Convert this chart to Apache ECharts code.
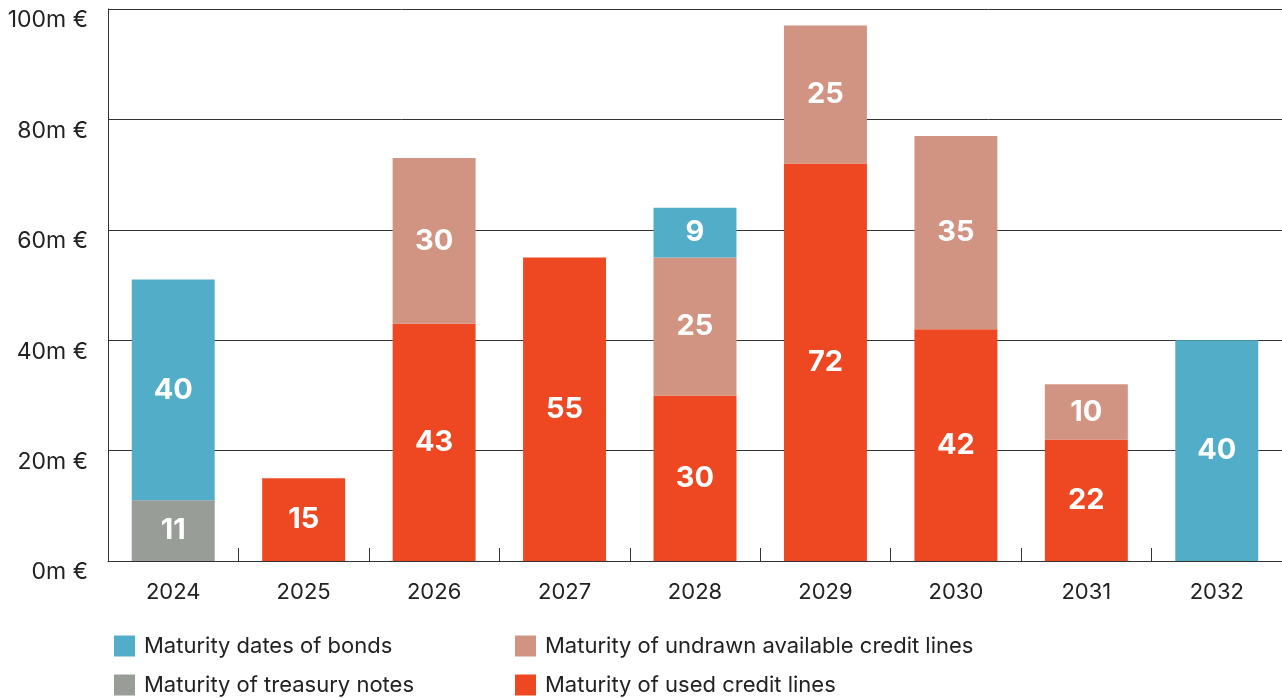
<!DOCTYPE html>
<html>
<head>
<meta charset="utf-8">
<script src="https://cdn.jsdelivr.net/npm/echarts@6/dist/echarts.min.js"></script>
<style>
  html, body { margin: 0; padding: 0; background: #fff; }
  #chart { width: 1282px; height: 698px; }
</style>
</head>
<body>
<div id="chart"></div>
<script>
// Maturity profile by year (m €)
const years = ['2024', '2025', '2026', '2027', '2028', '2029', '2030', '2031', '2032'];
const treasuryNotes = [11, null, null, null, null, null, null, null, null];
const usedCredit = [null, 15, 43, 55, 30, 72, 42, 22, null];
const undrawnCredit = [null, null, 30, null, 25, 25, 35, 10, null];
const bonds = [40, null, null, null, 9, null, null, null, 40];
const yTicks = [0, 20, 40, 60, 80, 100];

const FONT = 'Inter, "Noto Sans", sans-serif';
const COLORS = {
  bonds: '#52aec8',
  treasury: '#999d97',
  undrawn: '#d19482',
  used: '#ee4823'
};

const NAMES = {
  bonds: 'Maturity dates of bonds',
  treasury: 'Maturity of treasury notes',
  undrawn: 'Maturity of undrawn available credit lines',
  used: 'Maturity of used credit lines'
};

function barSeries(name, data, color) {
  return {
    name: name,
    type: 'bar',
    stack: 'total',
    barWidth: '63.6%',
    data: data,
    itemStyle: { color: color },
    label: {
      show: true,
      position: 'inside',
      color: '#fff',
      fontFamily: FONT,
      fontWeight: 'bold',
      fontSize: 29,
      formatter: p => (p.value == null ? '' : String(p.value))
    },
    emphasis: { disabled: true }
  };
}

// One legend entry per component so each can sit in its own slot
function legendItem(name, left, top) {
  return {
    left: left,
    top: top,
    itemWidth: 21,
    itemHeight: 21,
    icon: 'rect',
    selectedMode: false,
    padding: 0,
    data: [name],
    textStyle: { fontFamily: FONT, fontSize: 22, color: '#222', padding: [0, 0, 0, 4] }
  };
}

const chart = echarts.init(document.getElementById('chart'));
chart.setOption({
  animation: false,
  legend: [
    legendItem(NAMES.bonds, 114, 635),
    legendItem(NAMES.treasury, 114, 674),
    legendItem(NAMES.undrawn, 515, 635),
    legendItem(NAMES.used, 515, 674)
  ],
  grid: { left: 108, right: 0, top: 9, bottom: 137, containLabel: false },
  xAxis: {
    type: 'category',
    data: years,
    axisLine: { show: true, lineStyle: { color: '#333', width: 1 } },
    axisTick: { show: true, inside: true, length: 13, lineStyle: { color: '#333' } },
    axisLabel: { fontFamily: FONT, fontSize: 22, color: '#222', margin: 20 }
  },
  yAxis: {
    type: 'value',
    min: yTicks[0],
    max: yTicks[yTicks.length - 1],
    interval: 20,
    axisLine: { show: true, lineStyle: { color: '#333', width: 1 } },
    axisTick: { show: false },
    splitLine: { show: true, lineStyle: { color: '#333', width: 1 } },
    axisLabel: {
      fontFamily: FONT,
      fontSize: 23,
      color: '#222',
      margin: 20,
      verticalAlign: 'top',
      formatter: v => v + 'm €'
    }
  },
  series: [
    barSeries(NAMES.treasury, treasuryNotes, COLORS.treasury),
    barSeries(NAMES.used, usedCredit, COLORS.used),
    barSeries(NAMES.undrawn, undrawnCredit, COLORS.undrawn),
    barSeries(NAMES.bonds, bonds, COLORS.bonds)
  ]
});
</script>
</body>
</html>
